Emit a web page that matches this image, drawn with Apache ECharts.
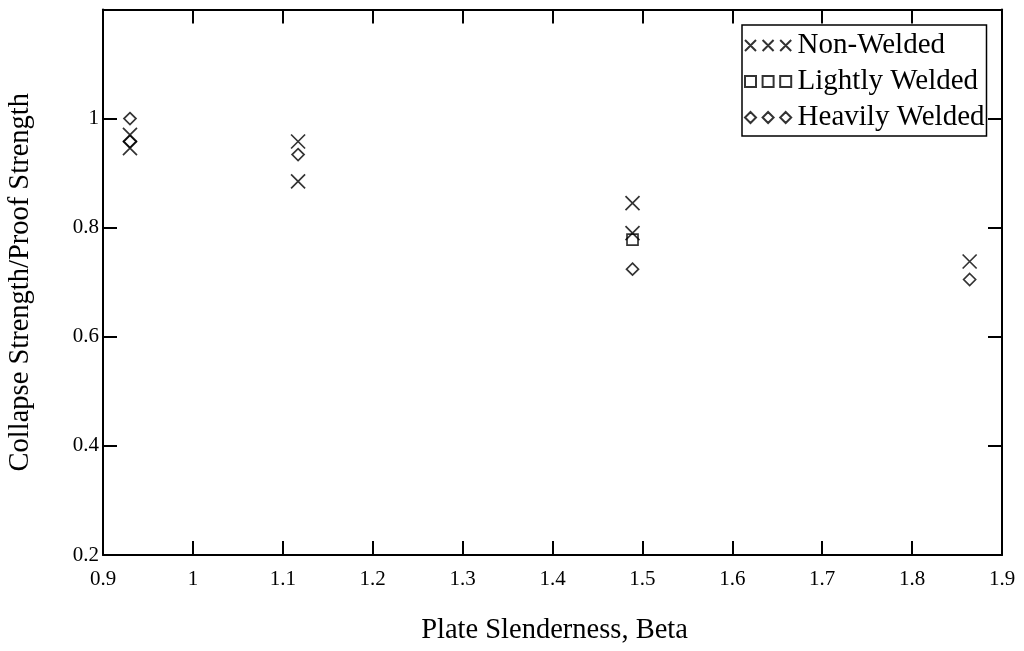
<!DOCTYPE html>
<html>
<head>
<meta charset="utf-8">
<script src="https://cdn.jsdelivr.net/npm/echarts@6/dist/echarts.min.js"></script>
<style>
html,body{margin:0;padding:0;background:#fff;}
#chart{width:1024px;height:651px;}
</style>
</head>
<body>
<div id="chart"></div>
<script>
// Data
const seriesNames = ['Non-Welded', 'Lightly Welded', 'Heavily Welded'];
const nonWeldedX = [0.93, 0.93, 1.117, 1.117, 1.489, 1.489, 1.864];
const nonWeldedY = [0.970, 0.946, 0.958, 0.885, 0.845, 0.790, 0.738];
const lightlyX = [1.489];
const lightlyY = [0.778];
const heavilyX = [0.93, 0.93, 1.117, 1.489, 1.864];
const heavilyY = [1.000, 0.958, 0.934, 0.724, 0.705];
const xTicks = { min: 0.9, max: 1.9, interval: 0.1 };
const yTicks = { min: 0.2, max: 1.2, interval: 0.2 };
const xTitle = 'Plate Slenderness, Beta';
const yTitle = 'Collapse Strength/Proof Strength';

const pairs = (xs, ys) => xs.map((x, i) => [x, ys[i]]);
const FONT = 'Liberation Serif, Times New Roman, serif';

const X_PATH = 'path://M0,0L10,10M10,0L0,10';
const X3 = 'path://M0,0L10,10M10,0L0,10M16,0L26,10M26,0L16,10M32,0L42,10M42,0L32,10';
const R3 = 'path://M0,0H10V10H0ZM16,0H26V10H16ZM32,0H42V10H32Z';
const D3 = 'path://M5,0L10,5L5,10L0,5ZM21,0L26,5L21,10L16,5ZM37,0L42,5L37,10L32,5Z';

const markStyle = { color: 'rgba(0,0,0,0)', borderColor: '#000', borderWidth: 1.7 };

const axisCommon = {
  axisLine: { show: true, onZero: false, lineStyle: { color: '#000', width: 2 } },
  axisTick: { show: true, inside: true, length: 14, lineStyle: { color: '#000', width: 2 } },
  splitLine: { show: false }
};

const chart = echarts.init(document.getElementById('chart'), null, { renderer: 'canvas' });
chart.setOption({
  backgroundColor: '#fff',
  animation: false,
  textStyle: { fontFamily: FONT },
  grid: { left: 103, right: 22, top: 9.5, bottom: 96, containLabel: false, outerBoundsMode: 'none' },
  legend: {
    orient: 'vertical',
    left: 742,
    top: 25,
    padding: [6, 2, 4, 2],
    itemGap: 7,
    itemWidth: 49,
    itemHeight: 11,
    itemTextGap: 10,
    borderColor: '#000',
    borderWidth: 1.5,
    backgroundColor: '#fff',
    textStyle: { fontFamily: FONT, fontSize: 29, color: '#000', lineHeight: 29 },
    data: [
      { name: seriesNames[0], icon: X3 },
      { name: seriesNames[1], icon: R3 },
      { name: seriesNames[2], icon: D3 }
    ]
  },
  xAxis: [
    Object.assign({
      type: 'value', position: 'bottom',
      min: xTicks.min, max: xTicks.max, interval: xTicks.interval,
      name: xTitle, nameLocation: 'middle', nameGap: 61,
      nameTextStyle: { fontFamily: FONT, fontSize: 28.5, color: '#000', padding: [0, 0, 0, 4] },
      axisLabel: { fontFamily: FONT, fontSize: 21, color: '#000', margin: 14 }
    }, axisCommon),
    Object.assign({
      type: 'value', position: 'top',
      min: xTicks.min, max: xTicks.max, interval: xTicks.interval,
      axisLabel: { show: false }
    }, axisCommon)
  ],
  yAxis: [
    Object.assign({
      type: 'value', position: 'left',
      min: yTicks.min, max: yTicks.max, interval: yTicks.interval,
      name: yTitle, nameLocation: 'middle', nameGap: 68, nameRotate: 90,
      nameTextStyle: { fontFamily: FONT, fontSize: 28.5, color: '#000' },
      axisLabel: {
        fontFamily: FONT, fontSize: 21, color: '#000', margin: 4,
        formatter: v => (v > 1.1 ? '' : String(+v.toFixed(2)))
      }
    }, axisCommon),
    Object.assign({
      type: 'value', position: 'right',
      min: yTicks.min, max: yTicks.max, interval: yTicks.interval,
      axisLabel: { show: false }
    }, axisCommon)
  ],
  series: [
    {
      name: seriesNames[0], type: 'scatter', xAxisIndex: 0, yAxisIndex: 0,
      symbol: X_PATH, symbolSize: 14, itemStyle: markStyle,
      data: pairs(nonWeldedX, nonWeldedY)
    },
    {
      name: seriesNames[1], type: 'scatter', xAxisIndex: 0, yAxisIndex: 0,
      symbol: 'rect', symbolSize: 11, itemStyle: markStyle,
      data: pairs(lightlyX, lightlyY)
    },
    {
      name: seriesNames[2], type: 'scatter', xAxisIndex: 0, yAxisIndex: 0,
      symbol: 'diamond', symbolSize: [12, 12], itemStyle: markStyle,
      data: pairs(heavilyX, heavilyY)
    }
  ]
});
</script>
</body>
</html>
